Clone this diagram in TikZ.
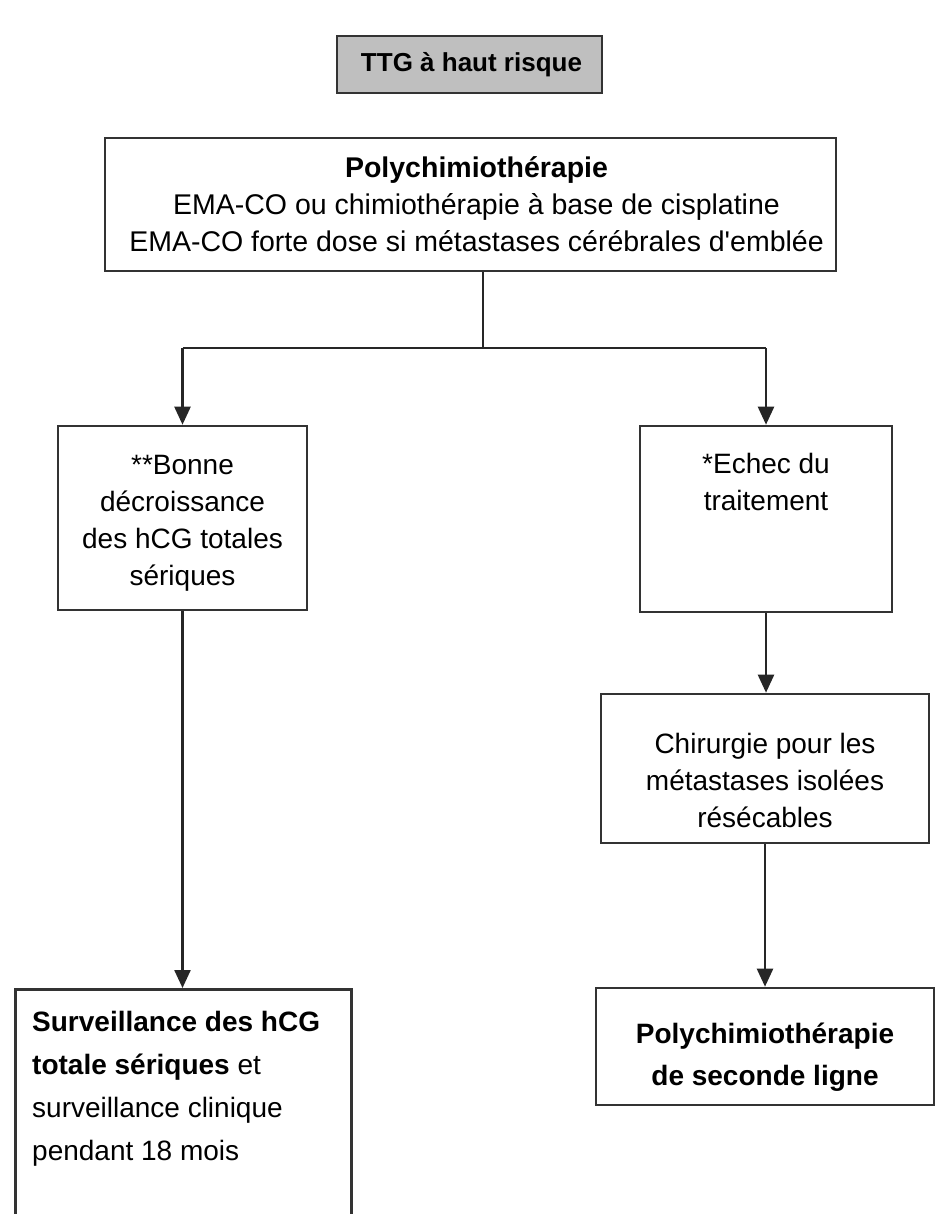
\documentclass[tikz,border=0pt]{standalone}
\usepackage{fontspec}
\setmainfont{Liberation Sans}
\usetikzlibrary{arrows.meta}
\begin{document}
\begin{tikzpicture}[x=1pt,y=-1pt,
  box/.style={draw=black!80,line width=2.6pt,fill=white,inner sep=0pt,align=center,
    font=\fontsize{28}{37}\selectfont},
  txt/.style={inner sep=0pt,align=center,font=\fontsize{28}{37}\selectfont},
  conn/.style={line width=2.4pt,draw=black!85},
  arr/.style={conn,-{Triangle[length=18pt,width=16pt]}}]
\useasboundingbox (0,0) rectangle (940,1214);
% top
\node[box,fill=black!25,minimum width=265pt,minimum height=57pt] (top) at (469.5,64.5) {};
\node[txt,font=\bfseries\fontsize{26}{30}\selectfont] (toptext) at ([shift={(2,0)}]top.center) {TTG à haut risque};
% polychimio
\node[box,minimum width=731pt,minimum height=133pt] (poly) at (470.5,204.5) {};
\node[txt,font=\fontsize{28.5}{37}\selectfont] (polytext) at ([shift={(6,0)}]poly.center)
  {\textbf{Polychimiothérapie}\\EMA-CO ou chimiothérapie à base de cisplatine\\EMA-CO forte dose si métastases cérébrales d\textquotesingle emblée};
% branches
\node[box,minimum width=249pt,minimum height=184pt] (left) at (182.5,518)
  {\rule{0pt}{29pt}**Bonne\\décroissance\\des hCG totales\\sériques};
\node[box,minimum width=252pt,minimum height=186pt] (right) at (766,519)
  {*Echec du\\traitement\\~\\~};
\node[box,minimum width=328pt,minimum height=149pt] (chir) at (765,768.5)
  {\rule{0pt}{44pt}Chirurgie pour les\\métastases isolées\\résécables};
\node[box,minimum width=338pt,minimum height=117pt,
  font=\bfseries\fontsize{28}{42}\selectfont] (br) at (765,1046.5)
  {\rule{0pt}{41pt}Polychimiothérapie\\de seconde ligne};
\node[box,anchor=north west,minimum width=336pt,minimum height=250pt] (bl) at (14,988) {};
\node[anchor=north west,align=left,inner sep=0pt,font=\fontsize{28}{43}\selectfont] (bltext)
  at ([shift={(18,23)}]bl.north west)
  {\textbf{Surveillance des hCG}\\\textbf{totale sériques} et\\surveillance clinique\\pendant 18 mois};
% connectors
\coordinate (split) at (483,348);
\coordinate (lj) at (182.5,348);
\coordinate (rj) at (766,348);
\draw[conn] (poly.south -| split) -- (split);
\draw[conn] (lj) -- (rj);
\draw[arr] (lj) -- (left.north);
\draw[arr] (rj) -- (right.north);
\draw[arr] (left.south) -- (left.south |- bl.north);
\draw[arr] (right.south) -- (right.south |- chir.north);
\draw[arr] (chir.south) -- (chir.south |- br.north);
\end{tikzpicture}
\end{document}
